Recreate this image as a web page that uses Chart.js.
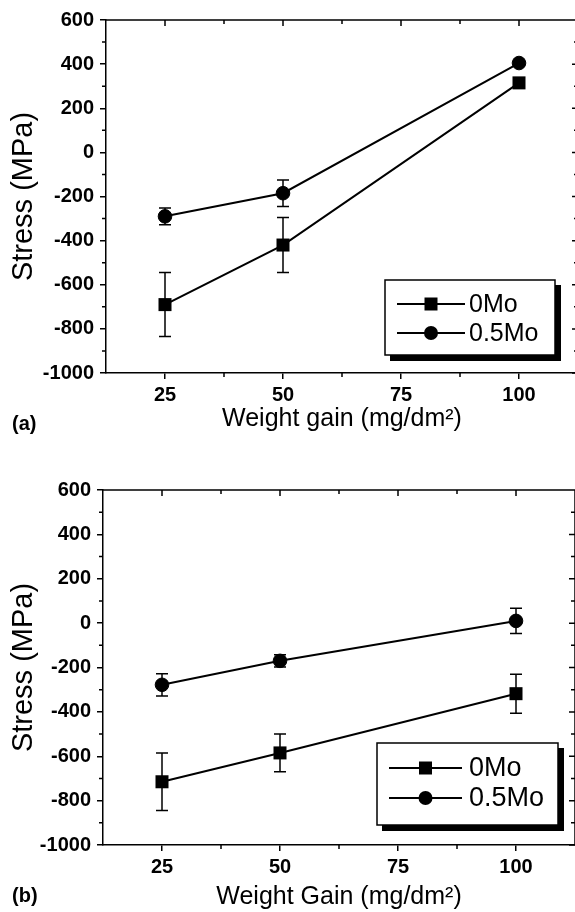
<!DOCTYPE html>
<html>
<head>
<meta charset="utf-8">
<script src="https://cdn.jsdelivr.net/npm/chart.js@4.4.1/dist/chart.umd.min.js"></script>
<style>
  html, body { margin: 0; padding: 0; background: #fff; overflow: hidden; width: 575px; height: 912px; }
  .panel { width: 600px; height: 456px; }
  canvas { display: block; }
</style>
</head>
<body>
<div class="panel"><canvas id="chartA" width="600" height="456"></canvas></div>
<div class="panel"><canvas id="chartB" width="600" height="456"></canvas></div>
<script>
// values
const xValues = [25, 50, 100];
const seriesNames = ['0Mo', '0.5Mo'];

const aStress0Mo = [-690, -420, 315];
const aErr0Mo = [145, 125, 0];
const aStress05Mo = [-290, -185, 405];
const aErr05Mo = [38, 60, 0];

const bStress0Mo = [-715, -585, -318];
const bErr0Mo = [130, 85, 88];
const bStress05Mo = [-278, -170, 10];
const bErr05Mo = [50, 28, 57];

const xTickValues = [25, 50, 75, 100];
const yTickValues = [-1000, -800, -600, -400, -200, 0, 200, 400, 600];

const FONT = "'Liberation Sans', Arial, Helvetica, sans-serif";
const W = 600, H = 456;

function pts(ys) {
  return xValues.map((x, i) => ({ x, y: ys[i] }));
}

function midpoints(vals) {
  const out = [];
  for (let i = 0; i < vals.length - 1; i++) out.push((vals[i] + vals[i + 1]) / 2);
  return out;
}

function marker(ctx, style, x, y, size) {
  ctx.beginPath();
  if (style === 'rect') {
    ctx.rect(x - size / 2, y - size / 2, size, size);
  } else {
    ctx.arc(x, y, size / 2, 0, Math.PI * 2);
  }
  ctx.fill();
}

// frame, minor ticks, error bars, legend box and panel label
const framePlugin = {
  id: 'frame',
  beforeDatasetsDraw(chart, args, opts) {
    const { ctx, chartArea: a, scales: { x, y } } = chart;
    ctx.save();
    ctx.strokeStyle = '#000';
    ctx.lineWidth = 1.5;
    ctx.beginPath();
    ctx.moveTo(a.left, a.top);
    ctx.lineTo(a.right, a.top);
    ctx.lineTo(a.right, a.bottom);

    xTickValues.forEach(v => {
      const px = x.getPixelForValue(v);
      ctx.moveTo(px, a.top); ctx.lineTo(px, a.top + 6);
    });
    midpoints(xTickValues).forEach(v => {
      const px = x.getPixelForValue(v);
      ctx.moveTo(px, a.bottom); ctx.lineTo(px, a.bottom + 4);
      ctx.moveTo(px, a.top); ctx.lineTo(px, a.top + 4);
    });
    yTickValues.forEach(v => {
      const py = y.getPixelForValue(v);
      ctx.moveTo(a.right, py); ctx.lineTo(a.right - 6, py);
    });
    midpoints(yTickValues).forEach(v => {
      const py = y.getPixelForValue(v);
      ctx.moveTo(a.left, py); ctx.lineTo(a.left - 4, py);
      ctx.moveTo(a.right, py); ctx.lineTo(a.right - 4, py);
    });
    ctx.stroke();

    // error bars
    ctx.beginPath();
    chart.data.datasets.forEach((ds, i) => {
      chart.getDatasetMeta(i).data.forEach((pt, j) => {
        const e = ds.errors[j];
        if (!e) return;
        const v = ds.data[j].y;
        const y1 = y.getPixelForValue(v + e);
        const y2 = y.getPixelForValue(v - e);
        ctx.moveTo(pt.x, y1); ctx.lineTo(pt.x, y2);
        ctx.moveTo(pt.x - 6, y1); ctx.lineTo(pt.x + 6, y1);
        ctx.moveTo(pt.x - 6, y2); ctx.lineTo(pt.x + 6, y2);
      });
    });
    ctx.stroke();
    ctx.restore();
  },
  afterDraw(chart, args, opts) {
    const { ctx } = chart;
    const L = opts.legend;
    ctx.save();
    // shadowed legend box
    ctx.fillStyle = '#000';
    ctx.fillRect(L.x + 5, L.y + 5, L.w + 1, L.h + 1);
    ctx.fillStyle = '#fff';
    ctx.fillRect(L.x, L.y, L.w, L.h);
    ctx.strokeStyle = '#000';
    ctx.lineWidth = 1.5;
    ctx.strokeRect(L.x, L.y, L.w, L.h);

    const styles = ['rect', 'circle'];
    const sizes = [13, 14];
    ctx.font = `${L.font}px ${FONT}`;
    ctx.textBaseline = 'middle';
    ctx.textAlign = 'left';
    chart.data.datasets.forEach((ds, i) => {
      const ry = L.rows[i];
      ctx.lineWidth = 2;
      ctx.beginPath();
      ctx.moveTo(L.x1, ry); ctx.lineTo(L.x2, ry);
      ctx.stroke();
      ctx.fillStyle = '#000';
      marker(ctx, styles[i], (L.x1 + L.x2) / 2, ry, sizes[i]);
      ctx.fillText(ds.label, L.tx, ry + 1);
    });

    // panel label
    ctx.font = `bold 20px ${FONT}`;
    ctx.textBaseline = 'middle';
    ctx.fillText(opts.label, opts.labelX, opts.labelY);
    ctx.restore();
  }
};

function makeChart(id, cfg) {
  const tickFont = { family: FONT, size: 20, weight: 'bold' };
  return new Chart(document.getElementById(id), {
    type: 'line',
    data: {
      datasets: [
        {
          label: seriesNames[0], data: pts(cfg.sq), errors: cfg.sqErr,
          borderColor: '#000', backgroundColor: '#000', borderWidth: 2,
          pointStyle: 'rect', pointRadius: 9.2, pointBorderWidth: 0
        },
        {
          label: seriesNames[1], data: pts(cfg.ci), errors: cfg.ciErr,
          borderColor: '#000', backgroundColor: '#000', borderWidth: 2,
          pointStyle: 'circle', pointRadius: 6.8, pointBorderWidth: 1
        }
      ]
    },
    options: {
      responsive: false,
      animation: false,
      events: [],
      layout: { padding: { top: cfg.top, right: W - cfg.right, left: 0, bottom: 0 } },
      plugins: {
        legend: { display: false },
        tooltip: { enabled: false },
        frame: cfg
      },
      scales: {
        x: {
          type: 'linear', min: 12.5, max: 112.5,
          afterBuildTicks: s => { s.ticks = xTickValues.map(v => ({ value: v })); },
          afterFit: s => { s.height = H - cfg.bottom; },
          ticks: { font: tickFont, color: '#000', padding: 4, maxRotation: 0, callback: v => String(v) },
          grid: { drawOnChartArea: false, color: '#000', lineWidth: 1.5, tickLength: 6 },
          border: { color: '#000', width: 1.5 },
          title: {
            display: true, text: cfg.xTitle, color: '#000',
            font: { family: FONT, size: 25 }, padding: { top: 0, bottom: cfg.xTitlePad }
          }
        },
        y: {
          min: -1000, max: 600,
          afterBuildTicks: s => { s.ticks = yTickValues.map(v => ({ value: v })); },
          afterFit: s => { s.width = cfg.left; },
          ticks: { font: tickFont, color: '#000', padding: 6, callback: v => String(v) },
          grid: { drawOnChartArea: false, color: '#000', lineWidth: 1.5, tickLength: 6 },
          border: { color: '#000', width: 1.5 },
          title: {
            display: true, text: 'Stress (MPa)', color: '#000',
            font: { family: FONT, size: 29 }, padding: { top: 7, bottom: 0 }
          }
        }
      }
    },
    plugins: [framePlugin]
  });
}

makeChart('chartA', {
  sq: aStress0Mo, sqErr: aErr0Mo, ci: aStress05Mo, ciErr: aErr05Mo,
  left: 106, right: 578, top: 20, bottom: 373,
  xTitle: 'Weight gain (mg/dm²)', xTitlePad: 22,
  label: '(a)', labelX: 12, labelY: 424,
  legend: { x: 385, y: 280, w: 170, h: 75, rows: [304, 333], x1: 397, x2: 465, tx: 469, font: 25 }
});

makeChart('chartB', {
  sq: bStress0Mo, sqErr: bErr0Mo, ci: bStress05Mo, ciErr: bErr05Mo,
  left: 103, right: 575, top: 34, bottom: 389,
  xTitle: 'Weight Gain (mg/dm²)', xTitlePad: 0,
  label: '(b)', labelX: 12, labelY: 440,
  legend: { x: 377, y: 287, w: 181, h: 82, rows: [312, 342], x1: 389, x2: 462, tx: 469, font: 27 }
});
</script>
</body>
</html>
